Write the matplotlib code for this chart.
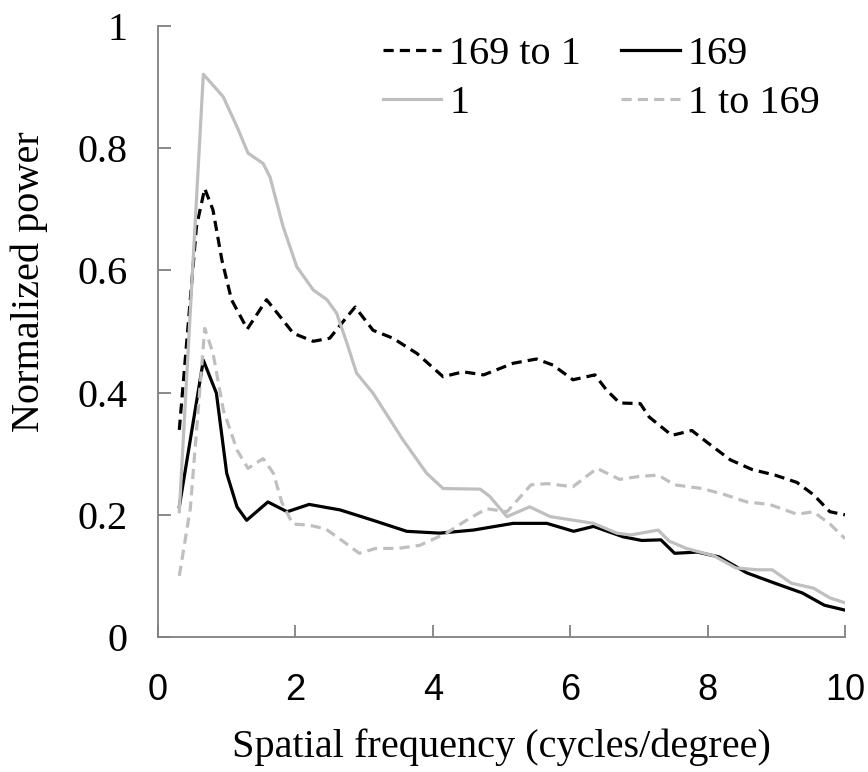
import matplotlib
matplotlib.use("Agg")
import matplotlib.pyplot as plt

# ---- data ----
x_169to1 = [0.31, 0.56, 0.68, 0.80, 0.93, 1.07, 1.30, 1.58, 1.78, 1.97, 2.26, 2.50, 2.75, 2.87,
            3.13, 3.42, 3.77, 4.15, 4.44, 4.74, 5.17, 5.51, 5.75, 6.04, 6.36, 6.53, 6.72, 7.02,
            7.15, 7.48, 7.77, 8.00, 8.33, 8.65, 8.98, 9.30, 9.54, 9.78, 10.0]
y_169to1 = [0.339, 0.672, 0.734, 0.699, 0.617, 0.552, 0.504, 0.552, 0.524, 0.497, 0.484, 0.489,
            0.524, 0.540, 0.502, 0.489, 0.464, 0.426, 0.434, 0.429, 0.448, 0.455, 0.445, 0.421,
            0.429, 0.404, 0.383, 0.382, 0.360, 0.330, 0.338, 0.318, 0.290, 0.274, 0.265, 0.253,
            0.233, 0.205, 0.200]

x_1 = [0.31, 0.66, 0.95, 1.15, 1.31, 1.53, 1.63, 1.82, 2.02, 2.26, 2.46, 2.60, 2.75, 2.89, 3.13,
       3.57, 3.91, 4.15, 4.69, 4.83, 5.08, 5.41, 5.71, 6.34, 6.68, 6.88, 7.28, 7.44, 7.69, 8.09,
       8.41, 8.73, 8.94, 9.22, 9.54, 9.78, 10.0]
y_1 = [0.205, 0.921, 0.884, 0.835, 0.792, 0.775, 0.753, 0.672, 0.606, 0.568, 0.552, 0.530,
       0.481, 0.432, 0.399, 0.322, 0.268, 0.243, 0.242, 0.230, 0.197, 0.213, 0.197, 0.186,
       0.170, 0.167, 0.175, 0.157, 0.145, 0.133, 0.113, 0.110, 0.110, 0.088, 0.080, 0.064, 0.056]

x_169 = [0.31, 0.66, 0.85, 1.00, 1.15, 1.29, 1.60, 1.88, 2.20, 2.65, 3.13, 3.62, 4.10, 4.59,
         5.17, 5.66, 6.05, 6.34, 6.77, 7.04, 7.32, 7.52, 7.85, 8.17, 8.57, 8.98, 9.38, 9.70, 10.0]
y_169 = [0.213, 0.453, 0.399, 0.268, 0.213, 0.191, 0.221, 0.205, 0.217, 0.208, 0.191, 0.173,
         0.170, 0.175, 0.186, 0.186, 0.173, 0.181, 0.164, 0.158, 0.159, 0.137, 0.139, 0.131,
         0.105, 0.088, 0.072, 0.052, 0.044]

x_1to169 = [0.31, 0.47, 0.68, 0.80, 0.95, 1.15, 1.31, 1.53, 1.68, 1.80, 1.96, 2.20, 2.44, 2.69,
            2.93, 3.17, 3.49, 3.81, 4.20, 4.46, 4.78, 5.08, 5.43, 5.66, 6.04, 6.39, 6.72, 7.02,
            7.28, 7.52, 7.92, 8.25, 8.57, 8.90, 9.30, 9.54, 9.78, 10.0]
y_1to169 = [0.100, 0.210, 0.505, 0.465, 0.372, 0.306, 0.276, 0.292, 0.268, 0.221, 0.185, 0.183,
            0.177, 0.157, 0.137, 0.145, 0.145, 0.150, 0.170, 0.189, 0.210, 0.205, 0.249, 0.251,
            0.246, 0.276, 0.258, 0.263, 0.265, 0.249, 0.243, 0.233, 0.221, 0.217, 0.201, 0.205,
            0.185, 0.161]

x_ticks = [0, 2, 4, 6, 8, 10]
y_ticks = [0, 0.2, 0.4, 0.6, 0.8, 1]
y_ticklabels = ["0", "0.2", "0.4", "0.6", "0.8", "1"]

# ---- figure ----
serif = ["Liberation Serif", "DejaVu Serif"]
sans = ["Liberation Sans", "DejaVu Sans"]
GREY = "#bfbfbf"

fig = plt.figure(figsize=(8.68, 7.72), dpi=100)
ax = fig.add_axes([158 / 868, (772 - 637) / 772, (845 - 158) / 868, (637 - 26) / 772])

lw = 2.3
dash = (0, (3.2, 1.9))
l1, = ax.plot(x_169to1, y_169to1, color="black", lw=lw, linestyle=dash, label="169 to 1",
              solid_joinstyle="round", dash_joinstyle="round")
l2, = ax.plot(x_169, y_169, color="black", lw=lw, label="169", solid_joinstyle="round")
l3, = ax.plot(x_1, y_1, color=GREY, lw=lw, label="1", solid_joinstyle="round")
l4, = ax.plot(x_1to169, y_1to169, color=GREY, lw=lw, linestyle=dash, label="1 to 169",
              dash_joinstyle="round")

ax.set_xlim(0, 10)
ax.set_ylim(0, 1)
ax.set_xticks(x_ticks)
ax.set_xticklabels([str(v) for v in x_ticks], fontfamily=sans, fontsize=26)
ax.set_yticks(y_ticks)
ax.set_yticklabels(y_ticklabels, fontfamily=serif, fontsize=29)

for s in ["top", "right"]:
    ax.spines[s].set_visible(False)
for s in ["left", "bottom"]:
    ax.spines[s].set_color("#808080")
    ax.spines[s].set_linewidth(1.3)

ax.tick_params(axis="both", direction="in", length=9, width=1.3, color="#808080")
ax.tick_params(axis="y", pad=22)
ax.tick_params(axis="x", pad=26)

ax.set_xlabel("Spatial frequency (cycles/degree)", fontfamily=serif, fontsize=29)
ax.xaxis.set_label_coords(0.5, -0.15)
ax.set_ylabel("Normalized power", fontfamily=serif, fontsize=29)
ax.yaxis.set_label_coords(-0.16, 0.581)

leg = ax.legend(handles=[l1, l3, l2, l4], ncol=2, frameon=False,
                prop={"family": serif, "size": 29},
                loc="upper left", bbox_to_anchor=(0.327, 0.984),
                handlelength=1.45, handletextpad=0.2, columnspacing=1.0,
                labelspacing=0.3, borderaxespad=0.0, borderpad=0.0)

fig.savefig("out.png", dpi=100)
